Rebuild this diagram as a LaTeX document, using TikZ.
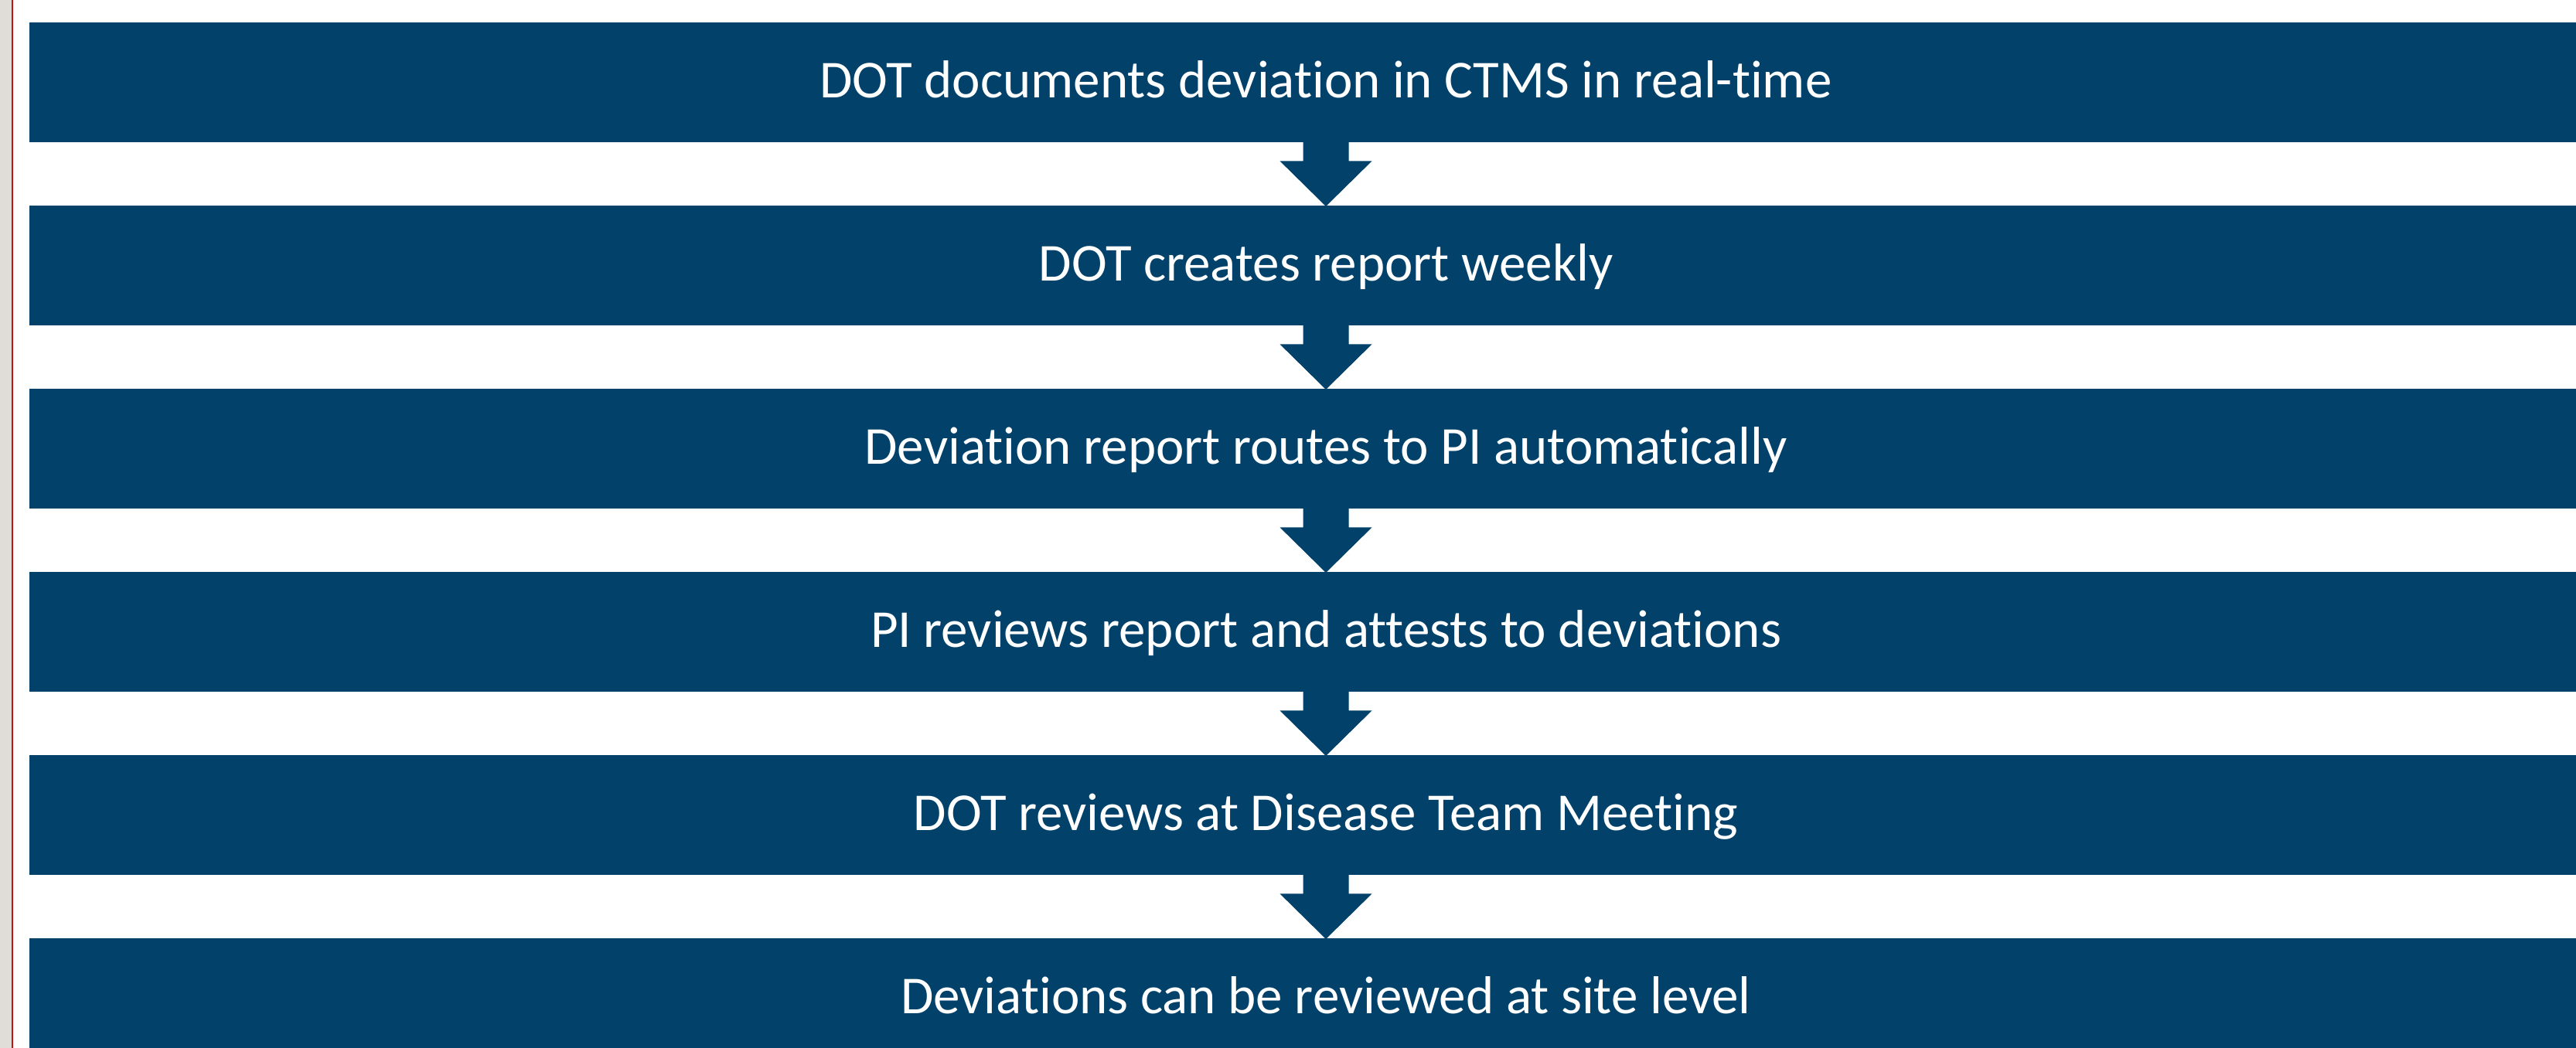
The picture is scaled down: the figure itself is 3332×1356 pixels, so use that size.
\documentclass[tikz,border=0pt]{standalone}
\usepackage{fontspec}
\setmainfont{Carlito}[Ligatures={NoCommon,NoRare,NoDiscretionary}]
\usetikzlibrary{calc}
\definecolor{boxblue}{RGB}{2,65,106}
\definecolor{stripgray}{RGB}{224,221,216}
\definecolor{stripred}{RGB}{200,16,16}
\tikzset{
  stepbox/.style={fill=boxblue, draw=none, inner sep=0pt, minimum width=3354pt, minimum height=155pt,
    text=white, font=\fontsize{69}{82}\selectfont, text height=42pt, text depth=2pt, anchor=north},
  flowarrow/.style={fill=boxblue, draw=none}
}
\begin{document}
\begin{tikzpicture}[x=1pt,y=-1pt]
\clip (0,0) rectangle (3332,1356);
\fill[white] (0,0) rectangle (3332,1356);
\fill[stripgray] (0,0) rectangle (15,1356);
\fill[stripred] (15,0) rectangle (17,1356);
\node[stepbox] (b1) at (1715,29) {DOT documents deviation in CTMS in real-time};
\node[stepbox] (b2) at (1715,266) {DOT creates report weekly};
\node[stepbox] (b3) at (1715,503) {Deviation report routes to PI automatically};
\node[stepbox] (b4) at (1715,740) {PI reviews report and attests to deviations};
\node[stepbox] (b5) at (1715,977) {DOT reviews at Disease Team Meeting};
\node[stepbox] (b6) at (1715,1214) {Deviations can be reviewed at site level};
\foreach \a/\b in {b1/b2,b2/b3,b3/b4,b4/b5,b5/b6}{
  \fill[flowarrow] ($(\a.south)+(-29.5,-1)$) -- ($(\a.south)+(-29.5,24)$) -- ($(\a.south)+(-59.5,24)$)
    -- ($(\b.north)+(0,1)$) -- ($(\a.south)+(59.5,24)$) -- ($(\a.south)+(29.5,24)$) -- ($(\a.south)+(29.5,-1)$) -- cycle;
}
\end{tikzpicture}
\end{document}
